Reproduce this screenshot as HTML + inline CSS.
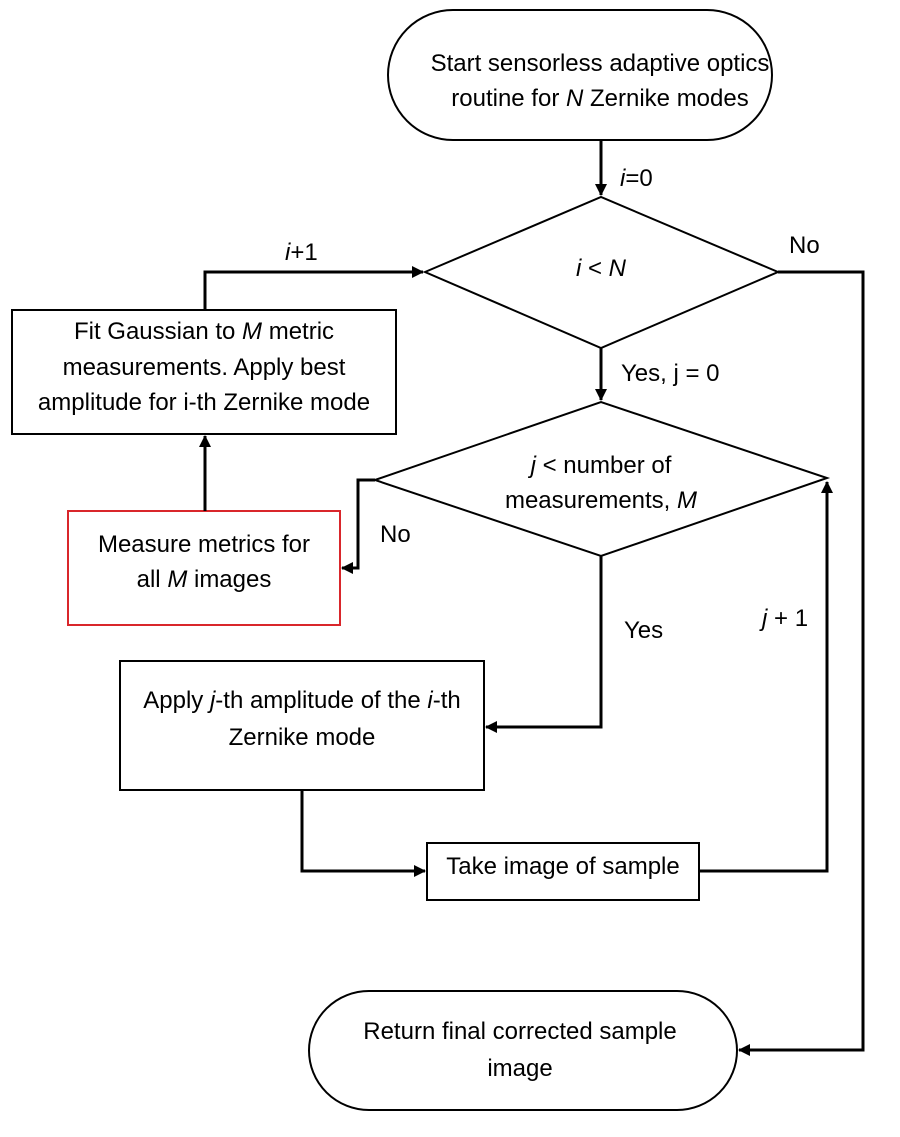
<!DOCTYPE html>
<html><head><meta charset="utf-8"><style>
html,body{margin:0;padding:0;background:#fff;}
svg text{font-family:"Liberation Sans",sans-serif;font-size:24px;fill:#000;}
</style></head><body>
<svg width="900" height="1132" viewBox="0 0 900 1132" xmlns="http://www.w3.org/2000/svg">
<defs><marker id="a" markerWidth="12" markerHeight="12" refX="11" refY="6" orient="auto" markerUnits="userSpaceOnUse"><path d="M0,0 L12,6 L0,12 z" fill="#000"/></marker></defs>
<g fill="none" stroke="#000" stroke-width="2">
<rect x="388" y="10" width="384" height="130" rx="65" ry="65"/>
<polygon points="425,272 601,197 778,272 601,348"/>
<polygon points="375,480 601,402 827,478 601,556"/>
<rect x="12" y="310" width="384" height="124"/>
<rect x="68" y="511" width="272" height="114" stroke="#d9262b"/>
<rect x="120" y="661" width="364" height="129"/>
<rect x="427" y="843" width="272" height="57"/>
<rect x="309" y="991" width="428" height="119" rx="60" ry="60"/>
</g>
<g fill="none" stroke="#000" stroke-width="3">
<path d="M601,140 V195" marker-end="url(#a)"/>
<path d="M778,272 H863 V1050 H739" marker-end="url(#a)"/>
<path d="M601,348 V400" marker-end="url(#a)"/>
<path d="M205,310 V272 H423" marker-end="url(#a)"/>
<path d="M205,511 V436" marker-end="url(#a)"/>
<path d="M375,480 H358 V568 H342" marker-end="url(#a)"/>
<path d="M601,556 V727 H486" marker-end="url(#a)"/>
<path d="M302,790 V871 H425" marker-end="url(#a)"/>
<path d="M699,871 H827 V482" marker-end="url(#a)"/>
</g>
<g text-anchor="middle">
<text x="600" y="71">Start sensorless adaptive optics</text>
<text x="600" y="106">routine for <tspan font-style="italic">N</tspan> Zernike modes</text>
<text x="601" y="276"><tspan font-style="italic">i</tspan> &lt; <tspan font-style="italic">N</tspan></text>
<text x="601" y="473"><tspan font-style="italic">j</tspan> &lt; number of</text>
<text x="601" y="508">measurements, <tspan font-style="italic">M</tspan></text>
<text x="204" y="339">Fit Gaussian to <tspan font-style="italic">M</tspan> metric</text>
<text x="204" y="375">measurements. Apply best</text>
<text x="204" y="410">amplitude for i-th Zernike mode</text>
<text x="204" y="552">Measure metrics for</text>
<text x="204" y="587">all <tspan font-style="italic">M</tspan> images</text>
<text x="302" y="708">Apply <tspan font-style="italic">j</tspan>-th amplitude of the <tspan font-style="italic">i</tspan>-th</text>
<text x="302" y="745">Zernike mode</text>
<text x="563" y="874">Take image of sample</text>
<text x="520" y="1039">Return final corrected sample</text>
<text x="520" y="1076">image</text>
</g>
<text x="620" y="186"><tspan font-style="italic">i</tspan>=0</text>
<text x="789" y="253">No</text>
<text x="621" y="381">Yes, j = 0</text>
<text x="285" y="260"><tspan font-style="italic">i</tspan>+1</text>
<text x="380" y="542">No</text>
<text x="624" y="638">Yes</text>
<text x="762" y="626"><tspan font-style="italic">j</tspan> + 1</text>
</svg>
</body></html>
